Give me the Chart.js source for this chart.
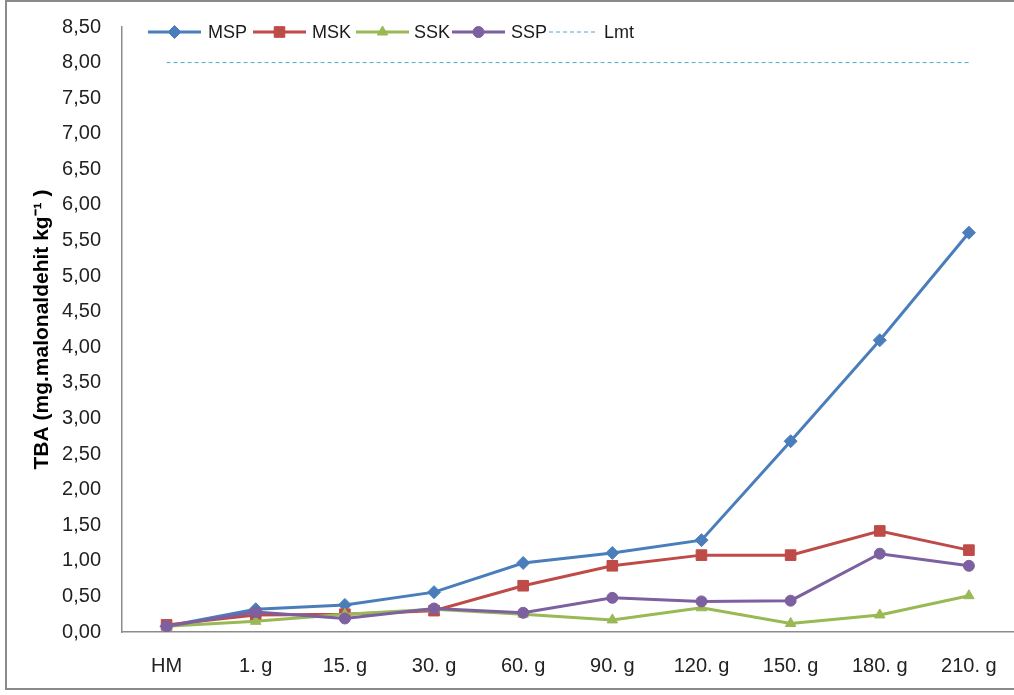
<!DOCTYPE html>
<html>
<head>
<meta charset="utf-8">
<script src="https://cdn.jsdelivr.net/npm/chart.js@4"></script>
<style>
  body { margin: 0; background: #fff; overflow: hidden; }
  #frame { position: absolute; left: 5px; top: 0; width: 1030px; height: 686px; border: 2px solid #8a8a8a; }
  #wrap { position: absolute; left: 0; top: -6px; width: 1022px; height: 701px; }
</style>
</head>
<body>
<div id="frame"></div>
<div id="wrap"><canvas id="grafico"></canvas></div>
<script>
// categorias (gunler)
const labels = ['HM', '1. g', '15. g', '30. g', '60. g', '90. g', '120. g', '150. g', '180. g', '210. g'];

// valores TBA
const msp = [0.08, 0.32, 0.38, 0.56, 0.97, 1.11, 1.29, 2.68, 4.10, 5.61];
const msk = [0.10, 0.24, 0.25, 0.30, 0.65, 0.93, 1.08, 1.08, 1.42, 1.15];
const ssk = [0.08, 0.15, 0.25, 0.32, 0.25, 0.17, 0.34, 0.12, 0.24, 0.51];
const ssp = [0.08, 0.28, 0.19, 0.33, 0.27, 0.48, 0.43, 0.44, 1.10, 0.93];
const lmt = [8.00, 8.00, 8.00, 8.00, 8.00, 8.00, 8.00, 8.00, 8.00, 8.00];

const yMin = 0, yMax = 8.5, yStep = 0.5;
const yTitle = 'TBA (mg.malonaldehit kg\u207B\u00B9 )';

const font = "'Liberation Sans', Arial, sans-serif";

function serie(label, data, color, style, radius, order) {
    return {
        label: label,
        data: data,
        borderColor: color,
        backgroundColor: color,
        borderWidth: 3,
        pointStyle: style,
        pointRadius: radius,
        pointHoverRadius: radius,
        pointBorderWidth: 1,
        tension: 0,
        order: order
    };
}

const datasets = [
    serie('MSP', msp, '#4a7ebb', 'rectRot', 6.5, 3),
    serie('MSK', msk, '#be4b48', 'rect', 7.5, 2),
    serie('SSK', ssk, '#98b954', 'triangle', 6, 1),
    serie('SSP', ssp, '#7d60a0', 'circle', 5.5, 0),
    {
        label: 'Lmt',
        data: lmt,
        borderColor: '#4bacc6',
        borderWidth: 1,
        borderDash: [4, 3],
        pointRadius: 0,
        order: 4
    }
];

// leyenda dibujada dentro del area del grafico
const leyenda = {
    id: 'leyenda',
    afterDraw(chart) {
        const ctx = chart.ctx;
        const y = 38;
        const items = [
            { x: 148, tx: 208 },
            { x: 253, tx: 312 },
            { x: 356, tx: 414 },
            { x: 452, tx: 511 },
            { x: 549, tx: 604 }
        ];
        ctx.save();
        chart.data.datasets.forEach((ds, i) => {
            const it = items[i];
            const w = i === 4 ? 47 : 53;
            ctx.strokeStyle = ds.borderColor;
            ctx.lineWidth = ds.borderWidth;
            ctx.setLineDash(ds.borderDash || []);
            ctx.beginPath();
            ctx.moveTo(it.x, y);
            ctx.lineTo(it.x + w, y);
            ctx.stroke();
            ctx.setLineDash([]);
            if (ds.pointRadius > 0) {
                ctx.fillStyle = ds.backgroundColor;
                ctx.strokeStyle = ds.borderColor;
                ctx.lineWidth = 1;
                Chart.helpers.drawPoint(ctx, {
                    pointStyle: ds.pointStyle,
                    radius: ds.pointRadius,
                    borderWidth: 1,
                    rotation: 0
                }, it.x + w / 2, y);
            }
            ctx.fillStyle = '#1a1a1a';
            ctx.font = '18px ' + font;
            ctx.textBaseline = 'middle';
            ctx.textAlign = 'left';
            ctx.fillText(ds.label, it.tx, y + 1);
        });
        ctx.restore();
    }
};

new Chart(document.getElementById('grafico'), {
    type: 'line',
    data: { labels: labels, datasets: datasets },
    plugins: [leyenda],
    options: {
        responsive: true,
        maintainAspectRatio: false,
        animation: false,
        layout: { padding: { top: 20, right: 0, left: 0, bottom: 0 } },
        plugins: {
            legend: { display: false },
            tooltip: { enabled: false }
        },
        scales: {
            x: {
                offset: true,
                grid: { display: false, drawTicks: false },
                border: { color: '#8c8c8c', width: 1.5 },
                ticks: { color: '#222', font: { family: font, size: 20 }, padding: 22, maxRotation: 0, autoSkip: false },
                afterFit: s => { s.height = 63; }
            },
            y: {
                min: yMin,
                max: yMax,
                grid: { display: false, drawTicks: false },
                border: { color: '#8c8c8c', width: 1.5 },
                ticks: {
                    stepSize: yStep,
                    color: '#222',
                    font: { family: font, size: 20 },
                    padding: 21,
                    callback: v => v.toFixed(2).replace('.', ',')
                },
                title: {
                    display: true,
                    text: yTitle,
                    color: '#000',
                    font: { family: font, size: 21, weight: 'bold' },
                    padding: { top: 30, bottom: 0 }
                },
                afterFit: s => { s.width = 122; }
            }
        }
    }
});
</script>
</body>
</html>
